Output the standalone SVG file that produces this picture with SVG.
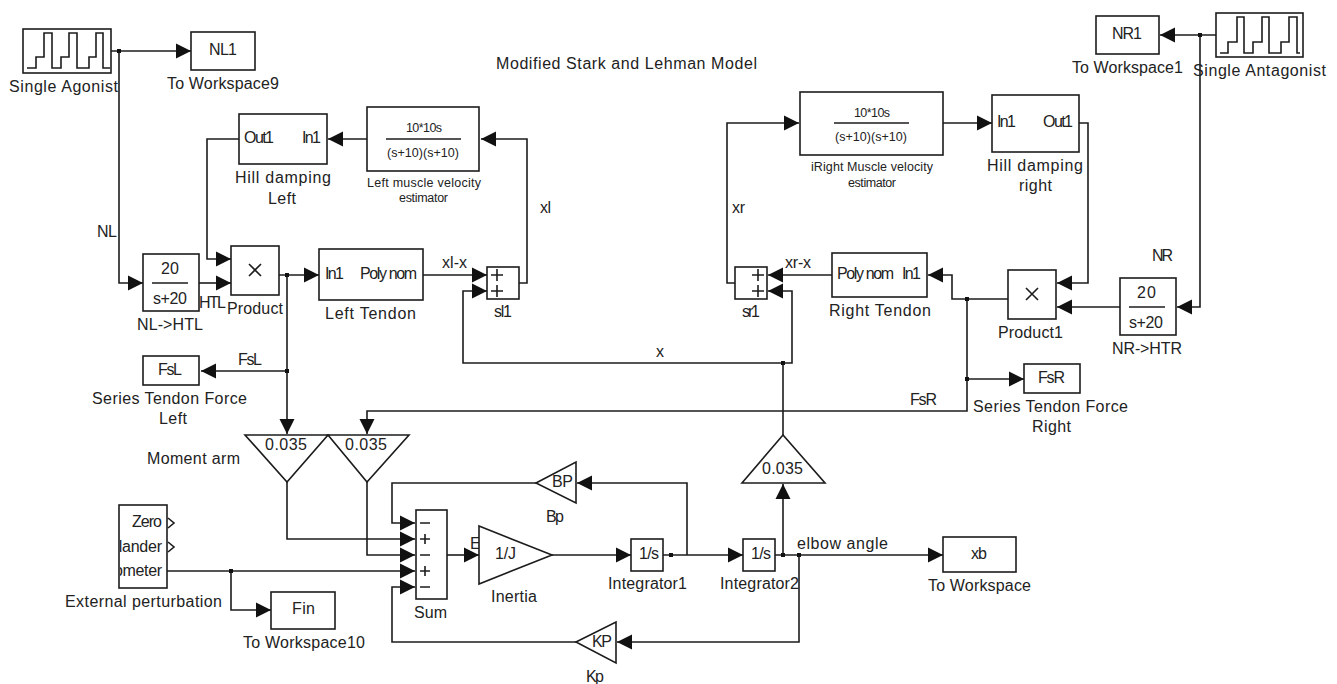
<svg xmlns="http://www.w3.org/2000/svg" width="1337" height="684" viewBox="0 0 1337 684">
<defs>
<marker id="a" markerUnits="userSpaceOnUse" markerWidth="16" markerHeight="16" refX="15" refY="8" orient="auto"><path d="M0 0.5L15 8L0 15.5Z" fill="#111"/></marker>
<clipPath id="ext-clip"><rect x="120" y="505" width="47" height="83"/></clipPath>
</defs>
<style>
text{font-family:"Liberation Sans",Arial,sans-serif;font-size:16px;fill:#222}
.s{font-size:12.5px}
.box,.tri{fill:#fff;stroke:#1c1c1c;stroke-width:1.6}
.w{fill:none;stroke:#1c1c1c;stroke-width:1.6}
#connectors path{fill:none;stroke:#1c1c1c;stroke-width:1.6}
#connectors path.m{marker-end:url(#a)}
#connectors rect{fill:#111}
</style>
<g id="connectors">
<path class="m" d="M111 51H191"/>
<path class="m" d="M119 51V283H143"/>
<path class="m" d="M199 283H231"/>
<path class="m" d="M239 139H207V259H231"/>
<path class="m" d="M367 139H328"/>
<path class="m" d="M279 275H319"/>
<path class="m" d="M423 275H487"/>
<path class="m" d="M519 283H527V139H481"/>
<path class="m" d="M287 275V434"/>
<path class="m" d="M287 371H201"/>
<path class="m" d="M967 299V411H367V434"/>
<path class="m" d="M287 482V539H415"/>
<path class="m" d="M367 482V555H415"/>
<path class="m" d="M536 483H392V523H415"/>
<path class="m" d="M576 642H392V587H415"/>
<path class="m" d="M167 571H415"/>
<path class="m" d="M231 571V610H271"/>
<path class="m" d="M447 555H479"/>
<path class="m" d="M552 555H631"/>
<path class="m" d="M663 555H743"/>
<path class="m" d="M687 555V483H577"/>
<path class="m" d="M775 555H943"/>
<path class="m" d="M783 555V484"/>
<path d="M783 435V363"/>
<path class="m" d="M783 363H463V291H487"/>
<path class="m" d="M783 363H792V291H768"/>
<path class="m" d="M799 555V642H617"/>
<path class="m" d="M735 283H727V123H799"/>
<path class="m" d="M943 123H992"/>
<path class="m" d="M1079 123H1088V283H1057"/>
<path class="m" d="M1008 299H952V275H928"/>
<path class="m" d="M832 275H768"/>
<path class="m" d="M1120 307H1057"/>
<path class="m" d="M1216 35H1160"/>
<path class="m" d="M1200 35V307H1177"/>
<path class="m" d="M967 379H1024"/>
<rect x="117" y="49" width="4" height="4"/><rect x="285" y="273" width="4" height="4"/><rect x="285" y="369" width="4" height="4"/>
<rect x="229" y="569" width="4" height="4"/><rect x="965" y="297" width="4" height="4"/><rect x="965" y="377" width="4" height="4"/>
<rect x="781" y="361" width="4" height="4"/><rect x="781" y="553" width="4" height="4"/><rect x="797" y="553" width="4" height="4"/>
<rect x="669" y="553" width="4" height="4"/><rect x="1198" y="33" width="4" height="4"/>
</g>
<g id="single-agonist"><rect class="box" x="23" y="29" width="88" height="44"/><path class="w" d="M27 68H36V57H44V33H52V68H61V57H69V33H77V68H89V57H96V33H103V68H110"/><text x="9" y="92" textLength="109">Single Agonist</text></g>
<g id="nl1"><rect class="box" x="191" y="32" width="64" height="38"/><text x="209" y="55" textLength="28">NL1</text><text x="167" y="89" textLength="112">To Workspace9</text></g>
<g id="hill-left"><rect class="box" x="239" y="114" width="88" height="50"/><text x="244" y="143" textLength="30">Out1</text><text x="302" y="143" textLength="19">In1</text><text x="235" y="183" textLength="96">Hill damping</text><text x="268" y="204" textLength="28">Left</text></g>
<g id="left-estimator"><rect class="box" x="367" y="107" width="112" height="64"/><text class="s" x="406" y="132" textLength="36">10*10s</text><path class="w" d="M386 139H461"/><text class="s" x="387" y="157" textLength="72">(s+10)(s+10)</text><text class="s" x="367" y="187" textLength="114">Left muscle velocity</text><text class="s" x="399" y="202" textLength="49">estimator</text></g>
<g id="nl-htl"><rect class="box" x="143" y="254" width="56" height="57"/><text x="161" y="274" textLength="18">20</text><path class="w" d="M152 283H188"/><text x="153" y="304" textLength="34">s+20</text><text x="137" y="330" textLength="66">NL-&gt;HTL</text><text x="199" y="308" textLength="27">HTL</text></g>
<g id="product"><rect class="box" x="231" y="246" width="48" height="49"/><path class="w" d="M249 264L261 276M261 264L249 276"/><text x="227" y="314" textLength="56">Product</text></g>
<g id="left-tendon"><rect class="box" x="319" y="249" width="104" height="51"/><text x="325" y="279" textLength="19">In1</text><text x="360" y="279" textLength="57">Poly nom</text><text x="325" y="319" textLength="91">Left Tendon</text></g>
<g id="sl1"><rect class="box" x="487" y="267" width="32" height="32"/><path class="w" d="M491 275h12M497 269v12M491 291h12M497 285v12"/><text x="494" y="317" textLength="18">sl1</text></g>
<g id="fsl"><rect class="box" x="143" y="356" width="56" height="29"/><text x="158" y="375" textLength="24">FsL</text><text x="92" y="404" textLength="155">Series Tendon Force</text><text x="159" y="424" textLength="28">Left</text></g>
<g id="moment-left"><polygon class="tri" points="245,435 328,435 287,482"/><text x="265" y="450" textLength="42">0.035</text></g>
<g id="moment-right"><polygon class="tri" points="328,435 409,435 367,482"/><text x="345" y="450" textLength="42">0.035</text></g>
<g id="external"><rect class="box" x="119" y="505" width="48" height="83"/><text x="132" y="527" textLength="30">Zero</text><g clip-path="url(#ext-clip)"><text x="110" y="552" textLength="52">plander</text><text x="114" y="576" textLength="48">ometer</text></g><path class="w" d="M168 518L174 523L168 528M168 542L174 547L168 552"/><text x="65" y="607" textLength="157">External perturbation</text></g>
<g id="fin"><rect class="box" x="271" y="592" width="64" height="37"/><text x="292" y="614" textLength="23">Fin</text><text x="243" y="648" textLength="122">To Workspace10</text></g>
<g id="sum"><rect class="box" x="416" y="510" width="31" height="89"/><path class="w" d="M420 523h10M420 539h10M425 534v10M420 555h10M420 571h10M425 566v10M420 587h10"/><text x="414" y="618" textLength="33">Sum</text></g>
<g id="inertia"><text x="470" y="549">E</text><polygon class="tri" points="479,526 552,555 479,584"/><text x="495" y="559" textLength="21">1/J</text><text x="491" y="602" textLength="46">Inertia</text></g>
<g id="bp"><polygon class="tri" points="536,483 576,462 576,503"/><text x="552" y="487" textLength="21">BP</text><text x="546" y="522" textLength="18">Bp</text></g>
<g id="integrator1"><rect class="box" x="631" y="539" width="32" height="32"/><text x="639" y="559" textLength="20">1/s</text><text x="608" y="589" textLength="79">Integrator1</text></g>
<g id="integrator2"><rect class="box" x="743" y="539" width="32" height="32"/><text x="751" y="559" textLength="20">1/s</text><text x="720" y="589" textLength="79">Integrator2</text></g>
<g id="gain-up"><polygon class="tri" points="783,435 742,483 825,483"/><text x="762" y="474" textLength="41">0.035</text></g>
<g id="kp"><polygon class="tri" points="576,642 616,622 616,663"/><text x="592" y="647" textLength="20">KP</text><text x="586" y="682" textLength="18">Kp</text></g>
<g id="xb"><rect class="box" x="943" y="537" width="73" height="35"/><text x="971" y="559" textLength="16">xb</text><text x="928" y="591" textLength="103">To Workspace</text></g>
<g id="fsr"><rect class="box" x="1024" y="364" width="56" height="29"/><text x="1038" y="383" textLength="27">FsR</text><text x="973" y="412" textLength="155">Series Tendon Force</text><text x="1032" y="432" textLength="39">Right</text></g>
<g id="nr-htr"><rect class="box" x="1120" y="278" width="56" height="57"/><text x="1137" y="298" textLength="19">20</text><path class="w" d="M1129 307H1165"/><text x="1129" y="328" textLength="34">s+20</text><text x="1112" y="354" textLength="70">NR-&gt;HTR</text><text x="1152" y="261" textLength="21">NR</text></g>
<g id="product1"><rect class="box" x="1008" y="270" width="48" height="49"/><path class="w" d="M1026 288L1038 300M1038 288L1026 300"/><text x="998" y="338" textLength="65">Product1</text></g>
<g id="right-tendon"><rect class="box" x="832" y="253" width="95" height="44"/><text x="837" y="279" textLength="57">Poly nom</text><text x="902" y="279" textLength="19">In1</text><text x="829" y="316" textLength="102">Right Tendon</text></g>
<g id="sr1"><rect class="box" x="735" y="267" width="32" height="32"/><path class="w" d="M752 275h12M758 269v12M752 291h12M758 285v12"/><text x="742" y="317" textLength="18">sr1</text></g>
<g id="right-estimator"><rect class="box" x="800" y="92" width="143" height="63"/><text class="s" x="854" y="117" textLength="36">10*10s</text><path class="w" d="M834 123H909"/><text class="s" x="835" y="141" textLength="72">(s+10)(s+10)</text><text class="s" x="811" y="171" textLength="122">iRight Muscle velocity</text><text class="s" x="848" y="187" textLength="48">estimator</text></g>
<g id="hill-right"><rect class="box" x="992" y="95" width="87" height="57"/><text x="997" y="127" textLength="19">In1</text><text x="1043" y="127" textLength="30">Out1</text><text x="987" y="171" textLength="96">Hill damping</text><text x="1019" y="191" textLength="33">right</text></g>
<g id="nr1"><rect class="box" x="1096" y="16" width="63" height="38"/><text x="1112" y="39" textLength="30">NR1</text><text x="1072" y="73" textLength="111">To Workspace1</text></g>
<g id="single-antagonist"><rect class="box" x="1216" y="13" width="87" height="44"/><path class="w" d="M1220 53H1228V42H1237V17H1244V53H1253V42H1262V17H1269V53H1281V42H1289V17H1297V53H1300"/><text x="1193" y="76" textLength="133">Single Antagonist</text></g>
<g id="labels">
<text x="496" y="69" textLength="261">Modified Stark and Lehman Model</text>
<text x="97" y="237" textLength="20">NL</text><text x="540" y="213" textLength="11">xl</text><text x="442" y="268" textLength="25">xl-x</text><text x="656" y="357">x</text><text x="238" y="365" textLength="24">FsL</text><text x="147" y="464" textLength="93">Moment arm</text><text x="910" y="405" textLength="27">FsR</text><text x="732" y="213" textLength="13">xr</text><text x="785" y="268" textLength="26">xr-x</text><text x="797" y="549" textLength="91">elbow angle</text>
</g>
</svg>
